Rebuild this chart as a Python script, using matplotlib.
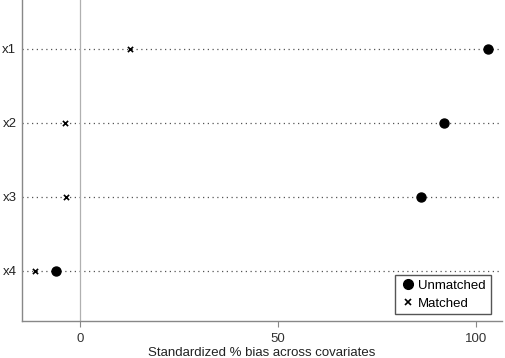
import matplotlib
matplotlib.use("Agg")
from matplotlib import pyplot as plt
from matplotlib.lines import Line2D

# covariates, top to bottom
covariates = ["x1", "x2", "x3", "x4"]
unmatched = [103.0, 91.9, 86.1, -6.1]
matched = [12.6, -3.8, -3.5, -11.4]
xticks = [0, 50, 100]

plt.rcParams['font.family'] = ['Liberation Sans', 'DejaVu Sans']

fig = plt.figure(figsize=(5.05, 3.58), dpi=100)
ax = fig.add_axes([0.0436, 0.1034, 0.9504, 0.8966])

ypos = [len(covariates) - i for i in range(len(covariates))]

for y in ypos:
    ax.axhline(y, color='#555555', linestyle=(0, (1, 2.8)), linewidth=0.9, zorder=1)
ax.axvline(0, color='#b0b0b0', linewidth=0.9, zorder=1)

ax.scatter(unmatched, ypos, marker='o', s=42, color='black', zorder=3)
ax.scatter(matched, ypos, marker='x', s=14, color='black', linewidths=1.2, zorder=3)

ax.set_xlim(-14.6, 106.6)
ax.set_ylim(0.32, 4.66)
ax.set_yticks(ypos)
ax.set_yticklabels(covariates)
ax.set_xticks(xticks)
ax.tick_params(axis='y', length=0, pad=4, labelsize=9.5, labelcolor='#222222')
ax.tick_params(axis='x', length=4, width=0.8, color='#888888', pad=5, labelsize=9.5, labelcolor='#333333')
ax.set_xlabel('Standardized % bias across covariates', fontsize=9.5, color='#222222', labelpad=1)

for s in ['top', 'right']:
    ax.spines[s].set_visible(False)
for s in ['left', 'bottom']:
    ax.spines[s].set_color('#888888')
    ax.spines[s].set_linewidth(1.0)

handles = [
    Line2D([], [], marker='o', color='black', linestyle='none', markersize=7),
    Line2D([], [], marker='x', color='black', linestyle='none', markersize=4, markeredgewidth=1.2),
]
leg = ax.legend(handles, ['Unmatched', 'Matched'], loc='lower right', fontsize=9.5,
                frameon=True, fancybox=False, edgecolor='#555555', framealpha=1,
                handletextpad=0.2, handlelength=1.2, borderpad=0.35, labelspacing=0.45,
                bbox_to_anchor=(0.99, 0.0))
leg.get_frame().set_linewidth(1.0)

fig.savefig('out.png', dpi=100)
